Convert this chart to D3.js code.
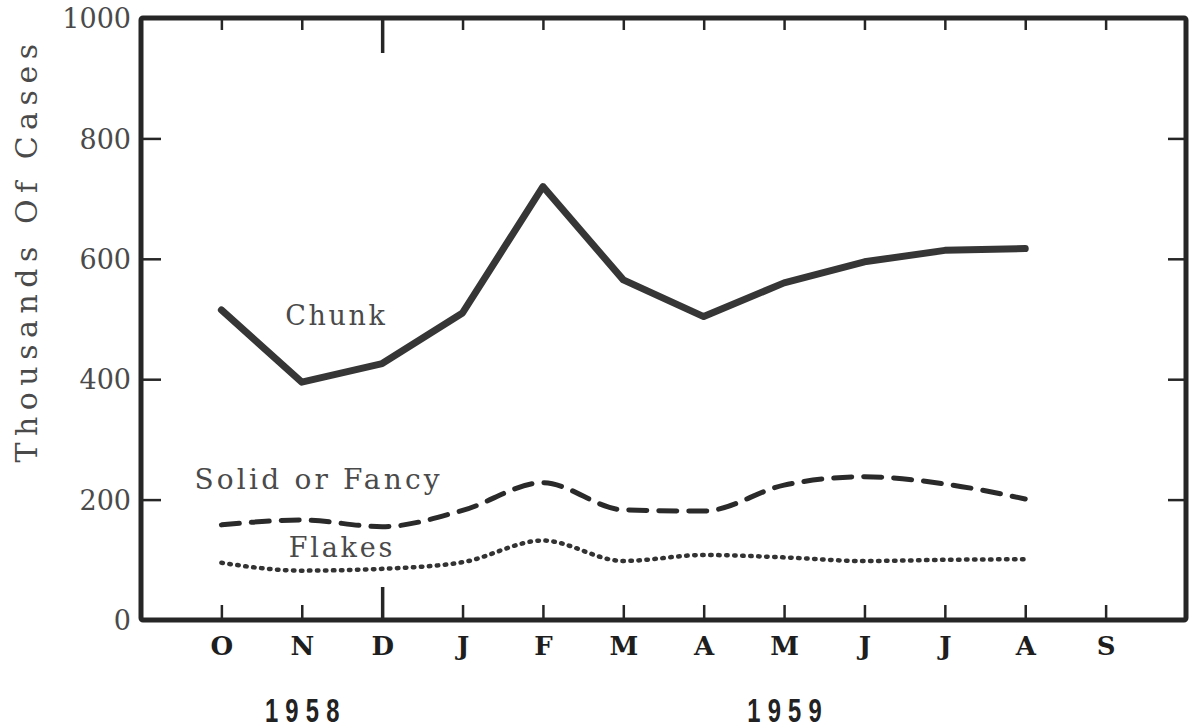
<!DOCTYPE html>
<html><head><meta charset="utf-8">
<script src="https://cdn.jsdelivr.net/npm/d3@7"></script>
<style>body{margin:0;background:#fff}svg{display:block}</style>
</head><body>
<svg id="c" width="1193" height="728"></svg>
<script>
const monthLabels = ["O","N","D","J","F","M","A","M","J","J","A","S"];
const yTicks = [0,200,400,600,800,1000];
const chunk  = [515, 395, 426, 510, 720, 565, 504, 560, 595, 614, 617];
const solid  = [158, 166, 155, 182, 228, 183, 181, 224, 238, 226, 201];
const flakes = [95, 82, 85, 96, 132, 98, 108, 104, 98, 100, 101];
const years = [{label:"1958", at:1}, {label:"1959", at:7}];
const seriesLabels = [
  {text:"Chunk", i:1.43, v:490, fs:27, ls:2.6},
  {text:"Solid or Fancy", i:1.21, v:217, fs:28, ls:3.2},
  {text:"Flakes", i:1.5, v:104, fs:27, ls:2.8}
];

const svg = d3.select("#c");
const L=141, R=1186, T=18, B=620;
const x = d3.scalePoint().domain(d3.range(monthLabels.length)).range([L,R]).padding(1);
const y = d3.scaleLinear().domain([0,1000]).range([B,T]);
const ink = "#262626";
const serif = "'DejaVu Serif', 'Liberation Serif', serif";

// bottom axis
const gb = svg.append("g").attr("transform",`translate(0,${B})`)
  .call(d3.axisBottom(x).tickSizeInner(-15).tickSizeOuter(0).tickPadding(17).tickFormat(i=>monthLabels[i]));
gb.select(".domain").remove();
gb.selectAll(".tick line").attr("stroke",ink).attr("stroke-width",2.5).filter(d=>d===2).attr("y2",-33).attr("stroke-width",3.5);
gb.selectAll(".tick text").attr("fill","#1e1e1e").style("font-family",serif).style("font-weight","bold").style("font-size","26px");

// top axis
const gt = svg.append("g").attr("transform",`translate(0,${T})`)
  .call(d3.axisTop(x).tickSizeInner(-12).tickSizeOuter(0).tickFormat(""));
gt.select(".domain").remove();
gt.selectAll(".tick line").attr("stroke",ink).attr("stroke-width",2.5).filter(d=>d===2).attr("y2",35).attr("stroke-width",3.5);

// left axis
const gl = svg.append("g").attr("transform",`translate(${L},0)`)
  .call(d3.axisLeft(y).tickValues(yTicks).tickFormat(d3.format("d")).tickSizeInner(-20).tickSizeOuter(0).tickPadding(10));
gl.select(".domain").remove();
gl.selectAll(".tick line").attr("stroke",ink).attr("stroke-width",2.5).filter(d=>d===0||d===1000).remove();
gl.selectAll(".tick text").attr("fill","#4a4a4a").style("font-family",serif).style("font-size","27px").attr("dy","0.36em");

// right axis
const gr = svg.append("g").attr("transform",`translate(${R},0)`)
  .call(d3.axisRight(y).tickValues([200,400,600,800]).tickSizeInner(-18).tickSizeOuter(0).tickFormat(""));
gr.select(".domain").remove();
gr.selectAll(".tick line").attr("stroke",ink).attr("stroke-width",2.5);

// frame
svg.append("rect").attr("x",L).attr("y",T).attr("width",R-L).attr("height",B-T)
  .attr("fill","none").attr("stroke",ink).attr("stroke-width",5).attr("rx",2);

// lines
const line = d3.line().x((d,i)=>x(i)).y(d=>y(d));
svg.append("path").datum(chunk).attr("d",line).attr("fill","none")
  .attr("stroke","#363636").attr("stroke-width",7).attr("stroke-linejoin","round").attr("stroke-linecap","round");
const curved = d3.line().x((d,i)=>x(i)).y(d=>y(d)).curve(d3.curveMonotoneX);
svg.append("path").datum(solid).attr("d",curved).attr("fill","none")
  .attr("stroke","#2a2a2a").attr("stroke-width",5).attr("stroke-dasharray","18 12").attr("stroke-linecap","round");
svg.append("path").datum(flakes).attr("d",curved).attr("fill","none")
  .attr("stroke","#333").attr("stroke-width",4.5).attr("stroke-dasharray","1.5 6.5").attr("stroke-linecap","round");

// series labels
svg.selectAll(".sl").data(seriesLabels).join("text").attr("class","sl")
  .attr("x",d=>x(0)+(x(1)-x(0))*d.i).attr("y",d=>y(d.v))
  .attr("text-anchor","middle").attr("fill","#4a4a4a")
  .style("font-family",serif).style("font-size",d=>d.fs+"px").style("letter-spacing",d=>d.ls+"px")
  .text(d=>d.text);

// y title
svg.append("text").attr("transform",`translate(37,250) rotate(-90)`)
  .attr("text-anchor","middle").attr("fill","#4a4a4a")
  .style("font-family",serif).style("font-size","30px").style("letter-spacing","6.5px")
  .text("Thousands Of Cases");

// years
svg.selectAll(".yr").data(years).join("text").attr("class","yr")
  .attr("transform",d=>`translate(${x(d.at)+4},722) scale(0.72,1)`)
  .attr("text-anchor","middle").attr("fill","#222")
  .style("font-family","'Liberation Sans','DejaVu Sans',sans-serif")
  .style("font-weight","bold").style("font-size","33px").style("letter-spacing","10px")
  .text(d=>d.label);
</script>
</body></html>
